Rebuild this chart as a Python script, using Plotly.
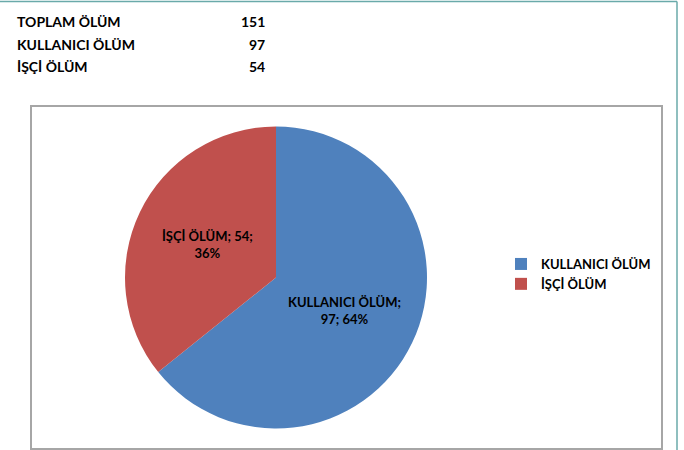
import plotly.graph_objects as go
import math

# ---- data ----
summary_labels = ["TOPLAM ÖLÜM", "KULLANICI ÖLÜM", "İŞÇİ ÖLÜM"]
summary_values = [151, 97, 54]
slice_labels = ["KULLANICI ÖLÜM", "İŞÇİ ÖLÜM"]
slice_values = [97, 54]
slice_colors = ["#4F81BD", "#C0504D"]

W, H = 684, 450
FONT = "Lato"

def px(x):
    return x / W

def py(y):  # y measured from top in pixels
    return 1 - y / H

# pie geometry (pixels, from top-left)
cx, cy, r = 276, 277.5, 151

fig = go.Figure()
fig.add_trace(go.Pie(
    labels=slice_labels,
    values=slice_values,
    marker=dict(colors=slice_colors, line=dict(width=0)),
    sort=False,
    direction="clockwise",
    rotation=0,
    textinfo="none",
    hoverinfo="label+value+percent",
    domain=dict(x=[px(cx - r), px(cx + r)], y=[py(cy + r), py(cy - r)]),
))

annotations = []
# slice labels at half radius along each slice bisector
total = sum(slice_values)
cum = 0
for lab, val in zip(slice_labels, slice_values):
    pct = round(100 * val / total)
    mid = (cum + val / 2) / total * 2 * math.pi
    cum += val
    lx = cx + 0.5 * r * math.sin(mid)
    ly = cy - 0.5 * r * math.cos(mid)
    if len(lab) > 10:
        txt = f"{lab};<br>{val}; {pct}%"
    else:
        txt = f"{lab}; {val};<br>{pct}%"
    annotations.append(dict(
        x=px(lx), y=py(ly), xref="paper", yref="paper",
        text=f"<b>{txt}</b>", showarrow=False,
        font=dict(family=FONT, size=13, color="#000000"),
        xanchor="center", yanchor="middle", align="center",
    ))

# summary table at top
row_y = [22, 45, 67]
for lab, val, yy in zip(summary_labels, summary_values, row_y):
    annotations.append(dict(
        x=px(15), y=py(yy), xref="paper", yref="paper",
        text=f"<b>{lab}</b>", showarrow=False,
        font=dict(family=FONT, size=14, color="#000000"),
        xanchor="left", yanchor="middle",
    ))
    annotations.append(dict(
        x=px(267), y=py(yy), xref="paper", yref="paper",
        text=f"<b>{val}</b>", showarrow=False,
        font=dict(family=FONT, size=14, color="#000000"),
        xanchor="right", yanchor="middle",
    ))

shapes = [
    # chart area border
    dict(type="rect", xref="paper", yref="paper",
         x0=px(31), x1=px(662), y0=py(449), y1=py(106),
         line=dict(color="#A6A6A6", width=2), fillcolor="rgba(0,0,0,0)", layer="below"),
    # outer teal frame (top and right edges)
    dict(type="line", xref="paper", yref="paper",
         x0=0, x1=px(677), y0=py(1.5), y1=py(1.5),
         line=dict(color="#6AAAAA", width=1.5)),
    dict(type="line", xref="paper", yref="paper",
         x0=px(677), x1=px(677), y0=0, y1=py(1.5),
         line=dict(color="#6AAAAA", width=1.5)),
]

fig.update_layout(
    width=W, height=H, autosize=False,
    margin=dict(l=0, r=0, t=0, b=0),
    paper_bgcolor="white", plot_bgcolor="white",
    showlegend=True,
    legend=dict(
        x=px(501), y=py(249), xanchor="left", yanchor="top",
        font=dict(family=FONT, size=13, color="#000000", weight="bold"),
        bgcolor="rgba(0,0,0,0)", itemclick=False,
    ),
    annotations=annotations,
    shapes=shapes,
    font=dict(family=FONT),
)

fig.write_html("out.html", config={"displayModeBar": False},
               post_script="document.body.style.margin='0';")
